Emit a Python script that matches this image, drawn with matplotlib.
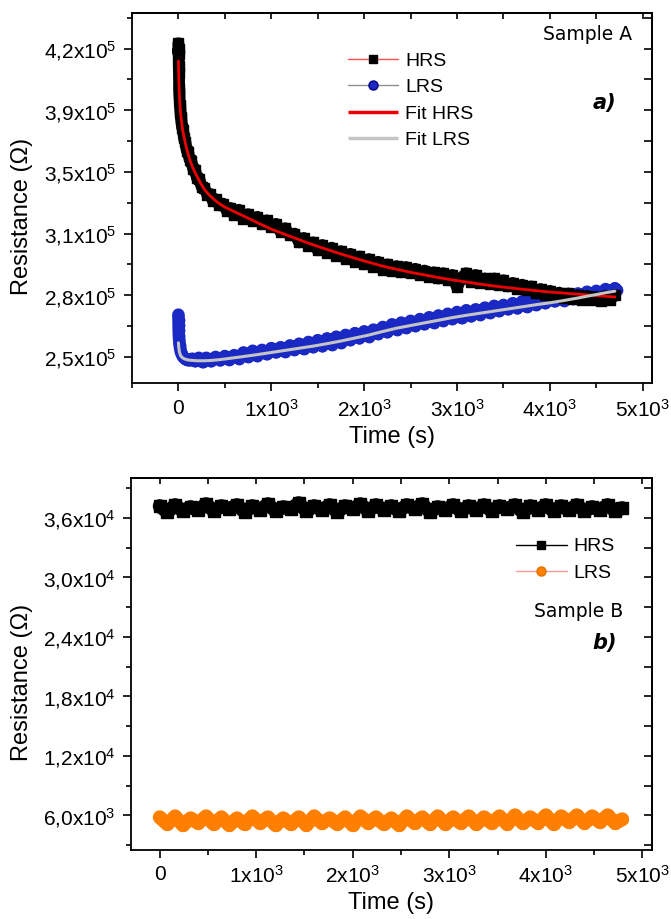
import matplotlib
matplotlib.use("Agg")
import matplotlib.pyplot as plt
from matplotlib.lines import Line2D
from matplotlib.ticker import FixedLocator

plt.rcParams["font.family"] = ["Liberation Sans", "DejaVu Sans"]
plt.rcParams["mathtext.default"] = "regular"
plt.rcParams["lines.solid_joinstyle"] = "round"
plt.rcParams["lines.solid_capstyle"] = "round"

# ---- Sample A (resistance in 1e5 Ohm, time in s) ----
t_hrs_a = [0, 1, 2, 4, 6, 8, 10, 15, 20, 25, 30, 40, 50, 60, 75, 90, 105, 120, 140, 160,
           180, 200, 225, 250, 280, 310, 340, 370, 400, 440, 480, 520, 560,
           600, 650, 700, 750, 800, 850, 900, 950, 1000, 1050, 1100, 1150, 1200, 1250,
           1300, 1350, 1400, 1450, 1500, 1550, 1600, 1650, 1700, 1750, 1800, 1850, 1900,
           1950, 2000, 2050, 2100, 2150, 2200, 2250, 2300, 2350, 2400, 2450, 2500, 2550,
           2600, 2650, 2700, 2750, 2800, 2850, 2900, 2950, 3000, 3050, 3100, 3150, 3200,
           3250, 3300, 3350, 3400, 3450, 3500, 3550, 3600, 3650, 3700, 3750, 3800, 3850,
           3900, 3950, 4000, 4050, 4100, 4150, 4200, 4250, 4300, 4350, 4400, 4450, 4500,
           4550, 4600, 4650, 4700]
r_hrs_a = [4.23, 4.17, 4.20, 4.10, 4.06, 3.97, 3.95, 3.88, 3.86, 3.81, 3.80, 3.75, 3.74, 3.69,
           3.67, 3.62, 3.615, 3.57, 3.56, 3.515, 3.51, 3.465, 3.46, 3.415, 3.41, 3.37, 3.375,
           3.335, 3.345, 3.31, 3.32, 3.28, 3.295,
           3.255, 3.285, 3.235, 3.26, 3.22, 3.245, 3.205, 3.225, 3.19, 3.205, 3.16, 3.18,
           3.14, 3.15, 3.10, 3.125, 3.08, 3.10, 3.055, 3.085, 3.04, 3.07, 3.025, 3.05, 3.005,
           3.035, 2.99, 3.02, 2.975, 3.005, 2.96, 2.99, 2.945, 2.975, 2.94, 2.965, 2.93, 2.96,
           2.925, 2.95, 2.915, 2.94, 2.905, 2.93, 2.895, 2.925, 2.885, 2.915, 2.845, 2.90,
           2.925, 2.875, 2.915, 2.87, 2.895, 2.865, 2.895, 2.86, 2.885, 2.85, 2.87, 2.835, 2.86,
           2.83, 2.85, 2.81, 2.835, 2.80, 2.825, 2.795, 2.815, 2.785, 2.81, 2.78, 2.80, 2.775,
           2.795, 2.775, 2.79, 2.77, 2.795, 2.775, 2.80]

t_lrs_a = [0, 1, 2, 3, 5, 8, 12, 18, 25, 35, 50, 70, 90, 120, 150, 180, 220, 260, 300, 350,
           400, 450, 500, 550,
           600, 650, 700, 750, 800, 850, 900, 950, 1000, 1050, 1100, 1150, 1200, 1250,
           1300, 1350, 1400, 1450, 1500, 1550, 1600, 1650, 1700, 1750, 1800, 1850, 1900,
           1950, 2000, 2050, 2100, 2150, 2200, 2250, 2300, 2350, 2400, 2450, 2500, 2550,
           2600, 2650, 2700, 2750, 2800, 2850, 2900, 2950, 3000, 3050, 3100, 3150, 3200,
           3250, 3300, 3350, 3400, 3450, 3500, 3550, 3600, 3650, 3700, 3750, 3800, 3850,
           3900, 3950, 4000, 4050, 4100, 4150, 4200, 4250, 4300, 4350, 4400, 4450, 4500,
           4550, 4600, 4650, 4700, 4720]
r_lrs_a = [2.69, 2.66, 2.63, 2.60, 2.57, 2.545, 2.52, 2.50, 2.48, 2.465, 2.45, 2.44, 2.435,
           2.43, 2.44, 2.425, 2.445, 2.42, 2.445, 2.425, 2.45, 2.43, 2.455, 2.435,
           2.46, 2.44, 2.475, 2.45, 2.485, 2.455, 2.49, 2.465, 2.50, 2.475, 2.505, 2.48,
           2.515, 2.49, 2.525, 2.495, 2.535, 2.505, 2.545, 2.51, 2.555, 2.52, 2.565, 2.53,
           2.575, 2.545, 2.585, 2.555, 2.595, 2.565, 2.605, 2.58, 2.62, 2.59, 2.635, 2.605,
           2.645, 2.615, 2.655, 2.625, 2.665, 2.635, 2.675, 2.645, 2.685, 2.655, 2.695, 2.665,
           2.705, 2.67, 2.715, 2.68, 2.72, 2.69, 2.73, 2.70, 2.74, 2.71, 2.745, 2.72, 2.755,
           2.725, 2.765, 2.735, 2.775, 2.745, 2.785, 2.755, 2.79, 2.765, 2.80, 2.77, 2.805,
           2.78, 2.81, 2.79, 2.82, 2.795, 2.825, 2.805, 2.835, 2.81, 2.84, 2.83]

t_fit_a = [0, 3, 6, 10, 15, 20, 30, 45, 60, 80, 100, 125, 150, 175, 200, 240, 280, 330,
           380, 440, 500, 600, 700, 850, 1000, 1150, 1300, 1450, 1600, 1750, 1900, 2050,
           2200, 2350, 2500, 2650, 2800, 2950, 3100, 3250, 3400, 3550, 3700, 3850, 4000,
           4150, 4300, 4450, 4600, 4700]
fit_hrs_a = [4.13, 4.05, 3.99, 3.94, 3.89, 3.855, 3.80, 3.74, 3.70, 3.65, 3.61, 3.565, 3.53,
             3.50, 3.475, 3.435, 3.40, 3.37, 3.345, 3.32, 3.30, 3.275, 3.25, 3.212, 3.175,
             3.145, 3.115, 3.086, 3.06, 3.034, 3.01, 2.987, 2.965, 2.947, 2.93, 2.915, 2.90,
             2.887, 2.875, 2.863, 2.852, 2.843, 2.834, 2.826, 2.818, 2.812, 2.806, 2.80,
             2.794, 2.79]
fit_lrs_a = [2.53, 2.51, 2.495, 2.48, 2.47, 2.462, 2.452, 2.445, 2.44, 2.436, 2.433, 2.431,
             2.43, 2.429, 2.428, 2.428, 2.428, 2.429, 2.431, 2.434, 2.438, 2.445, 2.452,
             2.463, 2.475, 2.487, 2.499, 2.511, 2.525, 2.54, 2.557, 2.574, 2.594, 2.613,
             2.628, 2.643, 2.658, 2.673, 2.686, 2.698, 2.71, 2.722, 2.734, 2.746, 2.757,
             2.77, 2.784, 2.799, 2.814, 2.823]

# ---- Sample B (resistance in 1e3 Ohm) ----
t_b = [0, 80, 160, 240, 320, 400, 480, 560, 640, 720, 800, 880, 960, 1040, 1120, 1200,
       1280, 1360, 1440, 1520, 1600, 1680, 1760, 1840, 1920, 2000, 2080, 2160, 2240, 2320,
       2400, 2480, 2560, 2640, 2720, 2800, 2880, 2960, 3040, 3120, 3200, 3280, 3360, 3440,
       3520, 3600, 3680, 3760, 3840, 3920, 4000, 4080, 4160, 4240, 4320, 4400, 4480, 4560,
       4640, 4720, 4790]
r_hrs_b = [37.2, 36.6, 37.3, 36.7, 37.1, 36.8, 37.4, 36.7, 37.2, 36.9, 37.3, 36.6, 37.2,
           36.8, 37.4, 36.7, 37.1, 36.9, 37.5, 36.7, 37.2, 36.8, 37.3, 36.6, 37.2, 36.9, 37.4,
           36.7, 37.3, 36.8, 37.2, 36.7, 37.3, 36.9, 37.4, 36.6, 37.1, 36.8, 37.3, 36.7, 37.2,
           36.8, 37.3, 36.7, 37.2, 36.9, 37.3, 36.6, 37.2, 36.8, 37.3, 36.7, 37.2, 36.8, 37.3,
           36.7, 37.1, 36.8, 37.3, 36.7, 37.0]
r_lrs_b = [5.8, 5.1, 5.9, 5.0, 5.7, 5.2, 5.9, 5.1, 5.8, 5.0, 5.7, 5.1, 5.9, 5.2, 5.8, 5.0,
           5.7, 5.1, 5.8, 5.0, 5.9, 5.2, 5.7, 5.1, 5.8, 5.0, 5.9, 5.2, 5.8, 5.1, 5.7, 5.0,
           5.9, 5.2, 5.8, 5.1, 5.9, 5.1, 5.8, 5.2, 5.9, 5.1, 5.8, 5.2, 5.9, 5.1, 6.0, 5.2,
           5.8, 5.2, 6.0, 5.1, 5.9, 5.3, 6.0, 5.2, 5.9, 5.3, 6.0, 5.2, 5.6]

x_major = [0, 1000, 2000, 3000, 4000, 5000]
x_labels = ["0", "1x10$^{3}$", "2x10$^{3}$", "3x10$^{3}$", "4x10$^{3}$", "5x10$^{3}$"]
y_major_a = [2.45, 2.80, 3.15, 3.50, 3.85, 4.20]
y_labels_a = ["2,5x10$^{5}$", "2,8x10$^{5}$", "3,1x10$^{5}$", "3,5x10$^{5}$",
              "3,9x10$^{5}$", "4,2x10$^{5}$"]
y_major_b = [6, 12, 18, 24, 30, 36]
y_labels_b = ["6,0x10$^{3}$", "1,2x10$^{4}$", "1,8x10$^{4}$", "2,4x10$^{4}$",
              "3,0x10$^{4}$", "3,6x10$^{4}$"]

BLUE = "#1a28c4"
ORANGE = "#ff8000"
TICKFS = 15
LABFS = 17
LEGFS = 14


def style_axes(ax, xlim, ylim, yticks, ylabels, yminor_step, xlab_y, ylab_x, ylab_y):
    ax.set_xlim(*xlim)
    ax.set_ylim(*ylim)
    xminor = [v - 500 for v in x_major] + [x_major[-1] + 500]
    yminor = [v - yminor_step for v in yticks] + [yticks[-1] + yminor_step]
    ax.set_xticks(x_major)
    ax.set_xticklabels(x_labels)
    ax.xaxis.set_minor_locator(FixedLocator(xminor))
    ax.set_yticks(yticks)
    ax.set_yticklabels(ylabels)
    ax.yaxis.set_minor_locator(FixedLocator(yminor))
    ax.tick_params(which="major", direction="out", length=6, width=1.2,
                   labelsize=TICKFS, pad=5)
    ax.tick_params(which="minor", direction="out", length=3.5, width=1.2)
    for s in ax.spines.values():
        s.set_linewidth(1.3)

    top = ax.secondary_xaxis("top")
    top.set_xticks(x_major)
    top.xaxis.set_minor_locator(FixedLocator(xminor))
    top.tick_params(which="both", direction="in", length=4.5, width=1.2, labeltop=False)
    top.spines["top"].set_linewidth(1.3)
    right = ax.secondary_yaxis("right")
    right.set_yticks(yticks)
    right.yaxis.set_minor_locator(FixedLocator(yminor))
    right.tick_params(which="both", direction="in", length=5.5, width=1.2, labelright=False)
    right.spines["right"].set_linewidth(1.3)

    ax.set_xlabel("Time (s)", fontsize=LABFS)
    ax.set_ylabel("Resistance (Ω)", fontsize=LABFS)
    ax.xaxis.label.set_va("center")
    ax.yaxis.label.set_va("center")
    ax.xaxis.set_label_coords(0.5, xlab_y)
    ax.yaxis.set_label_coords(ylab_x, ylab_y)


fig = plt.figure(figsize=(6.71, 9.19), dpi=100)

# panel a
ax1 = fig.add_axes([0.1967, 0.5829, 0.775, 0.4026])
ax1.plot(t_lrs_a, r_lrs_a, color=BLUE, lw=9, marker="o", ms=7.5, mec=BLUE, zorder=2)
ax1.plot(t_hrs_a, r_hrs_a, color="black", lw=8.5, marker="s", ms=7, mec="black", zorder=3)
ax1.plot(t_fit_a, fit_hrs_a, color="#ee0000", lw=2, zorder=4)
ax1.plot(t_fit_a, fit_lrs_a, color="#c4c4c4", lw=2.2, zorder=4)
style_axes(ax1, (-500, 5100), (2.3, 4.4), y_major_a, y_labels_a, 0.175, -0.144, -0.211, 0.45)

leg_a = [
    Line2D([], [], color="#ff5050", lw=1, marker="s", ms=6, mfc="black", mec="black"),
    Line2D([], [], color="#909090", lw=1, marker="o", ms=6.5, mfc=BLUE, mec="#000080"),
    Line2D([], [], color="#ee0000", lw=2.5, solid_capstyle="butt"),
    Line2D([], [], color="#c4c4c4", lw=2.5, solid_capstyle="butt"),
]
ax1.legend(leg_a, ["HRS", "LRS", "Fit HRS", "Fit LRS"], loc="upper left",
           bbox_to_anchor=(0.415, 0.895), frameon=False, fontsize=LEGFS,
           handlelength=2.6, handletextpad=0.35, labelspacing=0.45,
           borderpad=0, borderaxespad=0)
ax1.text(0.961, 0.944, "Sample A", transform=ax1.transAxes, ha="right", va="center",
         fontsize=13.5, family="DejaVu Sans")
ax1.text(0.931, 0.7565, "a)", transform=ax1.transAxes, ha="right", va="center",
         fontsize=15, family="DejaVu Sans", weight="bold", style="italic")

# panel b
ax2 = fig.add_axes([0.1948, 0.0751, 0.7769, 0.4044])
ax2.plot(t_b, r_hrs_b, color="black", lw=10, marker="s", ms=8, mec="black", zorder=3)
ax2.plot(t_b, r_lrs_b, color=ORANGE, lw=10, marker="o", ms=8.5, mec=ORANGE, zorder=3)
style_axes(ax2, (-300, 5100), (2.5, 40), y_major_b, y_labels_b, 3, -0.1434, -0.2076, 0.452)

leg_b = [
    Line2D([], [], color="black", lw=1, marker="s", ms=6, mfc="black", mec="black"),
    Line2D([], [], color="#ff9a9a", lw=1, marker="o", ms=6.5, mfc=ORANGE, mec="#e07000"),
]
ax2.legend(leg_b, ["HRS", "LRS"], loc="upper left", bbox_to_anchor=(0.739, 0.84),
           frameon=False, fontsize=LEGFS, handlelength=2.6, handletextpad=0.35,
           labelspacing=0.45, borderpad=0, borderaxespad=0)
ax2.text(0.945, 0.641, "Sample B", transform=ax2.transAxes, ha="right", va="center",
         fontsize=13.5, family="DejaVu Sans")
ax2.text(0.932, 0.556, "b)", transform=ax2.transAxes, ha="right", va="center",
         fontsize=15, family="DejaVu Sans", weight="bold", style="italic")

fig.savefig("out.png", dpi=100)
